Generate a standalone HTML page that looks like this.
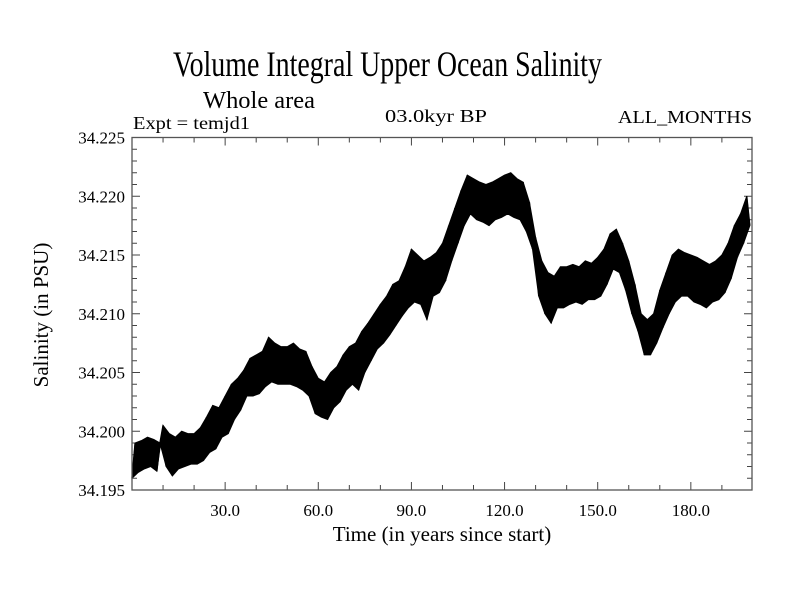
<!DOCTYPE html>
<html><head><meta charset="utf-8"><style>
html,body{margin:0;padding:0;background:#fff;}
svg{display:block;font-family:"Liberation Serif",serif;}
</style></head><body>
<svg id="chart" width="800" height="600" viewBox="0 0 800 600">
<text x="173" y="76" font-size="36" textLength="429" lengthAdjust="spacingAndGlyphs">Volume Integral Upper Ocean Salinity</text>
<text x="203" y="108" font-size="24" textLength="112" lengthAdjust="spacingAndGlyphs">Whole area</text>
<text x="133" y="129" font-size="18" textLength="117" lengthAdjust="spacingAndGlyphs">Expt = temjd1</text>
<text x="385" y="122" font-size="18" textLength="102" lengthAdjust="spacingAndGlyphs">03.0kyr BP</text>
<text x="618" y="123" font-size="18" textLength="134" lengthAdjust="spacingAndGlyphs">ALL_MONTHS</text>
<text x="442" y="541" font-size="21" text-anchor="middle">Time (in years since start)</text>
<text transform="translate(48,315) rotate(-90)" font-size="21" text-anchor="middle">Salinity (in PSU)</text>
<g id="axes"></g>
<path id="band" fill="#000" stroke="#000" stroke-width="1"></path>
<path id="series" fill="none" stroke="#000" stroke-width="1.4" stroke-linejoin="miter"></path>
<rect x="132" y="137.5" width="620" height="352.5" fill="none" stroke="#555" stroke-width="1.3"></rect>
</svg>
<script>
const years = [];
for (let i = 0; i < 200; i++) years.push(i);
const salinity = [
34.1960,34.1990,34.1965,34.1992,34.1968,34.1995,34.1970,34.1993,34.1966,34.1990,
34.2005,34.1970,34.1998,34.1962,34.1995,34.1968,34.2000,34.1970,34.1998,34.1972,
34.1998,34.1972,34.2003,34.1975,34.2012,34.1982,34.2022,34.1985,34.2020,34.1995,
34.2030,34.1998,34.2040,34.2010,34.2045,34.2018,34.2052,34.2030,34.2062,34.2030,
34.2065,34.2032,34.2068,34.2038,34.2080,34.2042,34.2075,34.2040,34.2072,34.2040,
34.2072,34.2040,34.2075,34.2038,34.2070,34.2035,34.2068,34.2030,34.2055,34.2015,
34.2045,34.2012,34.2042,34.2010,34.2050,34.2020,34.2055,34.2025,34.2065,34.2035,
34.2072,34.2040,34.2075,34.2035,34.2085,34.2050,34.2092,34.2060,34.2100,34.2070,
34.2108,34.2075,34.2115,34.2082,34.2125,34.2090,34.2128,34.2098,34.2140,34.2105,
34.2155,34.2110,34.2150,34.2108,34.2145,34.2095,34.2148,34.2115,34.2152,34.2118,
34.2160,34.2128,34.2175,34.2145,34.2190,34.2160,34.2205,34.2175,34.2218,34.2185,
34.2215,34.2180,34.2212,34.2178,34.2210,34.2175,34.2212,34.2180,34.2215,34.2182,
34.2218,34.2185,34.2220,34.2182,34.2215,34.2180,34.2212,34.2170,34.2195,34.2155,
34.2165,34.2115,34.2145,34.2100,34.2135,34.2092,34.2132,34.2105,34.2140,34.2105,
34.2140,34.2108,34.2142,34.2110,34.2140,34.2108,34.2145,34.2112,34.2143,34.2112,
34.2148,34.2115,34.2155,34.2125,34.2168,34.2138,34.2172,34.2135,34.2160,34.2120,
34.2145,34.2100,34.2125,34.2085,34.2100,34.2065,34.2095,34.2065,34.2100,34.2075,
34.2120,34.2088,34.2135,34.2100,34.2150,34.2110,34.2155,34.2115,34.2152,34.2115,
34.2150,34.2110,34.2148,34.2108,34.2145,34.2105,34.2142,34.2110,34.2145,34.2112,
34.2150,34.2118,34.2160,34.2130,34.2175,34.2148,34.2185,34.2160,34.2200,34.2175
];
const xTickValues = [30,60,90,120,150,180];
const xTickLabels = ["30.0","60.0","90.0","120.0","150.0","180.0"];
const yTickValues = [34.195,34.200,34.205,34.210,34.215,34.220,34.225];
const yTickLabels = ["34.195","34.200","34.205","34.210","34.215","34.220","34.225"];

const L=132,R=752,T=137.5,B=490, XMIN=0,XMAX=199.7,YMIN=34.195,YMAX=34.225;
const xs = v => L + (v-XMIN)/(XMAX-XMIN)*(R-L);
const ys = v => B - (v-YMIN)/(YMAX-YMIN)*(B-T);
const NS="http://www.w3.org/2000/svg";
const axes=document.getElementById('axes');
function line(x1,y1,x2,y2,name){
  const l=document.createElementNS(NS,'line');
  l.setAttribute('x1',x1);l.setAttribute('y1',y1);l.setAttribute('x2',x2);l.setAttribute('y2',y2);
  l.setAttribute('stroke','#444');l.setAttribute('stroke-width','1');
  
  
  axes.appendChild(l);
}
function text(x,y,s,anchor,name){
  const t=document.createElementNS(NS,'text');
  t.setAttribute('x',x);t.setAttribute('y',y);t.setAttribute('font-size','17');t.setAttribute('text-anchor',anchor);
  t.textContent=s;
  
  
  axes.appendChild(t);
}
for(let v=10; v<XMAX; v+=10){
  const major = v%30===0, len = major?8:5, x=xs(v);
  line(x,B,x,B-len,'x-tick');
  line(x,T,x,T+len,'x-tick-top');
}
xTickValues.forEach((v,i)=>text(xs(v),516,xTickLabels[i],'middle','x-tick-label'));
for(let k=0;k<=30;k++){
  const v=YMIN+k*0.001, y=ys(v), major=k%5===0, len=major?8:5;
  line(L,y,L+len,y,'y-tick');
  line(R,y,R-len,y,'y-tick-right');
}
yTickValues.forEach((v,i)=>text(125,ys(v)+6,yTickLabels[i],'end','y-tick-label'));
let d='';
years.forEach((yr,i)=>{ d+=(i?'L':'M')+xs(yr).toFixed(2)+','+ys(salinity[i]).toFixed(2); });
document.getElementById('series').setAttribute('d',d);
// envelope band: highs (even samples) forward, lows (odd samples) backward
const hi=[],lo=[];
years.forEach((yr,i)=>{ (i%2===0?hi:lo).push([xs(yr),ys(salinity[i])]); });
let bd='';
hi.forEach((p,i)=>{ bd+=(i?'L':'M')+p[0].toFixed(2)+','+p[1].toFixed(2); });
lo.slice().reverse().forEach(p=>{ bd+='L'+p[0].toFixed(2)+','+p[1].toFixed(2); });
bd+='Z';
document.getElementById('band').setAttribute('d',bd);
</script>
</body></html>
